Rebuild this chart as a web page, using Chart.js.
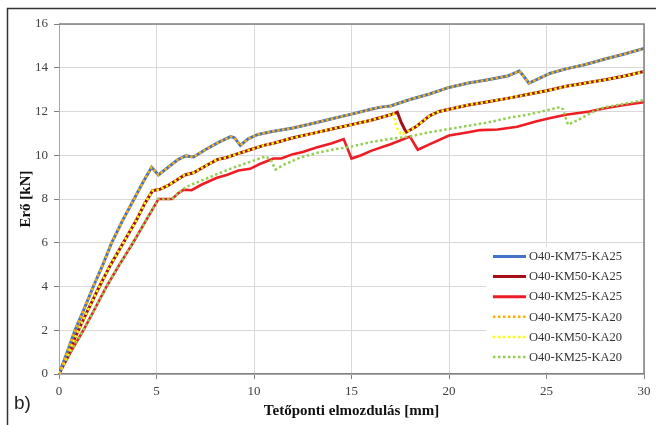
<!DOCTYPE html>
<html>
<head>
<meta charset="utf-8">
<script src="https://cdn.jsdelivr.net/npm/chart.js@4"></script>
<style>
    html, body { margin: 0; padding: 0; background: #fff; }
    .wrap { position: relative; width: 656px; height: 425px; }
    #chart { position: absolute; left: 0; top: 0; }
    .panel-label {
        position: absolute; left: 14px; top: 392px;
        font-family: "Liberation Sans", Arial, sans-serif; font-size: 19px; color: #222;
    }
</style>
</head>
<body>
<div class="wrap">
    <canvas id="chart" width="656" height="425"></canvas>
    <div class="panel-label">b)</div>
</div>
<script>
// series names, in legend order
const seriesNames = ['O40-KM75-KA25', 'O40-KM50-KA25', 'O40-KM25-KA25', 'O40-KM75-KA20', 'O40-KM50-KA20', 'O40-KM25-KA20'];

// O40-KM75-KA25 (the KA20 twin lies on top of it)
const km75X = [0, 0.4, 0.82, 1.3, 1.76, 2.25, 2.7, 3.25, 3.85, 4.3, 4.75, 5.1, 5.6, 6.1, 6.5, 6.9, 7.5, 8.2, 8.8, 9.0, 9.3, 9.7, 10.2, 11, 12, 13, 14, 15, 16, 16.5, 17, 18, 19, 20, 21, 22, 23, 23.6, 23.75, 24.1, 24.6, 25.2, 26, 27, 28, 29, 30];
const km75Y = [0, 0.95, 2, 3.0, 4, 5.0, 6, 7.0, 8.0, 8.75, 9.45, 9.1, 9.45, 9.8, 9.97, 9.92, 10.25, 10.6, 10.85, 10.8, 10.45, 10.75, 10.95, 11.1, 11.25, 11.45, 11.67, 11.88, 12.1, 12.2, 12.25, 12.55, 12.8, 13.1, 13.3, 13.45, 13.62, 13.85, 13.7, 13.3, 13.5, 13.75, 13.95, 14.15, 14.4, 14.63, 14.88];

// O40-KM50-KA25
const km50X = [0, 0.5, 0.99, 1.5, 2.07, 2.65, 3.3, 3.95, 4.4, 4.8, 5.2, 5.6, 6.0, 6.45, 6.9, 7.4, 8.1, 8.6, 9.1, 9.8, 10.5, 11, 12, 13, 14, 15, 16, 17, 17.35, 17.55, 17.8, 18.3, 19, 19.5, 20, 21, 22, 23, 24, 25, 26, 27, 28, 29, 30];
const km50Y = [0, 1.0, 2, 2.95, 4, 5.0, 6, 7.0, 7.8, 8.38, 8.45, 8.62, 8.85, 9.1, 9.2, 9.45, 9.8, 9.9, 10.05, 10.25, 10.45, 10.55, 10.8, 11.0, 11.2, 11.4, 11.6, 11.85, 11.97, 11.5, 11.05, 11.3, 11.8, 12.0, 12.1, 12.3, 12.45, 12.6, 12.78, 12.95, 13.15, 13.3, 13.45, 13.62, 13.83];

// O40-KM50-KA20 (drops a little earlier)
const km50bX = [0, 0.5, 0.99, 1.5, 2.07, 2.65, 3.3, 3.95, 4.4, 4.8, 5.2, 5.6, 6.0, 6.45, 6.9, 7.4, 8.1, 8.6, 9.1, 9.8, 10.5, 11, 12, 13, 14, 15, 16, 17, 17.15, 17.25, 17.4, 17.6, 17.8, 18.3, 19, 19.5, 20, 21, 22, 23, 24, 25, 26, 27, 28, 29, 30];
const km50bY = [0, 1.0, 2, 2.95, 4, 5.0, 6, 7.0, 7.8, 8.38, 8.45, 8.62, 8.85, 9.1, 9.2, 9.45, 9.8, 9.9, 10.05, 10.25, 10.45, 10.55, 10.8, 11.0, 11.2, 11.4, 11.6, 11.85, 11.9, 11.5, 11.1, 10.95, 11.05, 11.3, 11.8, 12.0, 12.1, 12.3, 12.45, 12.6, 12.78, 12.95, 13.15, 13.3, 13.45, 13.62, 13.83];

// O40-KM25-KA25
const km25X = [0, 0.6, 1.25, 1.85, 2.44, 3.1, 3.8, 4.45, 5.1, 5.5, 5.8, 6.1, 6.4, 6.8, 7.3, 8.1, 8.6, 9.2, 9.8, 10.3, 11, 11.4, 12, 12.5, 13.2, 14, 14.6, 14.8, 15.0, 15.5, 16, 17, 18, 18.2, 18.4, 19, 20, 21, 21.6, 22.5, 23.5, 24.5, 25.2, 26, 27.2, 28, 29, 30];
const km25Y = [0, 1.0, 2, 3.0, 4, 5.0, 6, 7.0, 8.0, 8.0, 8.0, 8.25, 8.43, 8.4, 8.65, 8.97, 9.1, 9.3, 9.38, 9.6, 9.85, 9.85, 10.05, 10.15, 10.35, 10.55, 10.74, 10.3, 9.85, 10.0, 10.2, 10.5, 10.85, 10.55, 10.25, 10.5, 10.9, 11.05, 11.15, 11.18, 11.3, 11.55, 11.7, 11.85, 12.0, 12.15, 12.3, 12.42];

// O40-KM25-KA20
const km25bX = [0, 0.6, 1.25, 1.85, 2.44, 3.1, 3.8, 4.45, 5.1, 5.5, 5.8, 6.1, 6.5, 7.2, 8, 8.9, 9.8, 10.6, 10.85, 11.1, 11.6, 12.35, 13.2, 14, 15, 16, 17, 18, 19, 20, 21, 22, 23, 24, 25, 25.7, 25.85, 26.1, 26.6, 27.1, 27.6, 28, 29, 30];
const km25bY = [0, 1.0, 2, 3.0, 4, 5.0, 6, 7.0, 8.0, 8.0, 8.0, 8.25, 8.55, 8.8, 9.1, 9.42, 9.7, 9.95, 9.8, 9.35, 9.6, 9.88, 10.1, 10.25, 10.4, 10.6, 10.75, 10.86, 11.05, 11.2, 11.35, 11.5, 11.7, 11.85, 12.05, 12.2, 12.1, 11.4, 11.6, 11.85, 12.08, 12.2, 12.35, 12.53];

const xTicks = [0, 5, 10, 15, 20, 25, 30];
const yTicks = [0, 2, 4, 6, 8, 10, 12, 14, 16];

const serif = '"Liberation Serif", "Times New Roman", serif';

function points(xs, ys) {
    return xs.map((x, i) => ({ x: x, y: ys[i] }));
}

function solid(label, xs, ys, color, width) {
    return { label: label, data: points(xs, ys), borderColor: color, borderWidth: width, order: 2 };
}

function dotted(label, xs, ys, color) {
    return { label: label, data: points(xs, ys), borderColor: color, borderWidth: 2.5, borderDash: [2.5, 2.5], order: 1 };
}

// frame lines, outer border and the legend box in the plot corner
const framePlugin = {
    id: 'frame',
    beforeDraw(chart) {
        const ctx = chart.ctx;
        ctx.save();
        ctx.strokeStyle = '#333';
        ctx.lineWidth = 1.5;
        ctx.beginPath();
        ctx.moveTo(7.5, 425);
        ctx.lineTo(7.5, 8.5);
        ctx.lineTo(656, 8.5);
        ctx.stroke();
        ctx.restore();
    },
    afterDatasetsDraw(chart) {
        const ctx = chart.ctx;
        const a = chart.chartArea;
        ctx.save();
        ctx.strokeStyle = '#7f7f7f';
        ctx.lineWidth = 1.5;
        ctx.beginPath();
        ctx.moveTo(a.left, a.top);
        ctx.lineTo(a.right, a.top);
        ctx.lineTo(a.right, a.bottom);
        ctx.stroke();

        // legend
        const boxLeft = 486, boxTop = 247;
        ctx.fillStyle = '#fff';
        ctx.fillRect(boxLeft, boxTop, a.right - boxLeft - 1, a.bottom - boxTop - 2);
        ctx.font = '12.5px ' + serif;
        ctx.textBaseline = 'middle';
        ctx.textAlign = 'left';
        chart.data.datasets.forEach((ds, i) => {
            const y = 256.5 + i * 20.1;
            ctx.strokeStyle = ds.borderColor;
            ctx.lineWidth = ds.borderDash ? 2.5 : 3;
            ctx.setLineDash(ds.borderDash || []);
            ctx.beginPath();
            ctx.moveTo(493, y);
            ctx.lineTo(526, y);
            ctx.stroke();
            ctx.setLineDash([]);
            ctx.fillStyle = '#333';
            ctx.fillText(ds.label, 529, y + 0.5);
        });
        ctx.restore();
    }
};

document.addEventListener('DOMContentLoaded', function() {
    const ctx = document.getElementById('chart').getContext('2d');

    new Chart(ctx, {
        type: 'line',
        data: {
            datasets: [
                solid(seriesNames[0], km75X, km75Y, '#4472c4', 3),
                solid(seriesNames[1], km50X, km50Y, '#a50f15', 3),
                solid(seriesNames[2], km25X, km25Y, '#ee1c24', 2.6),
                dotted(seriesNames[3], km75X, km75Y, '#ffb000'),
                dotted(seriesNames[4], km50bX, km50bY, '#ffff00'),
                dotted(seriesNames[5], km25bX, km25bY, '#92d050')
            ]
        },
        options: {
            responsive: false,
            animation: false,
            devicePixelRatio: 1,
            layout: { padding: { top: 24, right: 12, left: 0, bottom: 0 } },
            elements: {
                point: { radius: 0 },
                line: { tension: 0, fill: false, borderCapStyle: 'butt' }
            },
            plugins: {
                legend: { display: false },
                tooltip: { enabled: false }
            },
            scales: {
                x: {
                    type: 'linear',
                    min: 0,
                    max: 30,
                    afterFit: (scale) => { scale.height = 51; },
                    afterBuildTicks: (scale) => { scale.ticks = xTicks.map(v => ({ value: v })); },
                    grid: { color: '#d9d9d9', lineWidth: 1, tickLength: 5, tickColor: '#7f7f7f' },
                    border: { color: '#7f7f7f', width: 1.5 },
                    ticks: { padding: 5, color: '#404040', font: { family: serif, size: 13 } },
                    title: {
                        display: true,
                        text: 'Tetőponti elmozdulás [mm]',
                        color: '#111',
                        font: { family: serif, size: 15, weight: 'bold' },
                        padding: { top: 0, bottom: 5 }
                    }
                },
                y: {
                    type: 'linear',
                    min: 0,
                    max: 16,
                    afterFit: (scale) => { scale.width = 59; },
                    afterBuildTicks: (scale) => { scale.ticks = yTicks.map(v => ({ value: v })); },
                    grid: { color: '#d9d9d9', lineWidth: 1, tickLength: 5, tickColor: '#7f7f7f' },
                    border: { color: '#a6a6a6', width: 1 },
                    ticks: { padding: 6, color: '#404040', font: { family: serif, size: 13 } },
                    title: {
                        display: true,
                        text: 'Erő [kN]',
                        color: '#111',
                        font: { family: serif, size: 15, weight: 'bold' },
                        padding: { top: 17, bottom: 0 }
                    }
                }
            }
        },
        plugins: [framePlugin]
    });
});
</script>
</body>
</html>
